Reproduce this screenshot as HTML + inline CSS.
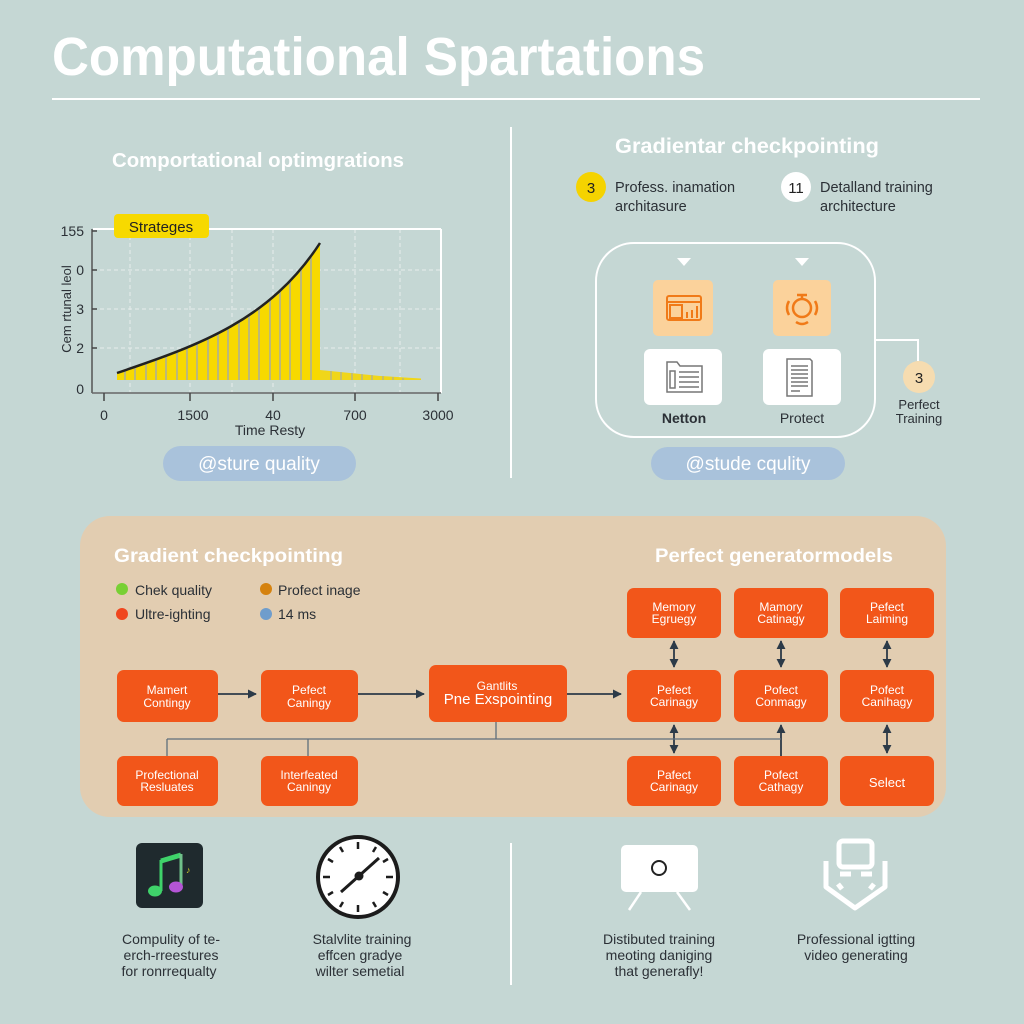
<!DOCTYPE html>
<html><head><meta charset="utf-8"><style>
html,body{margin:0;padding:0;background:#c5d7d4;}
svg{display:block;}
text{font-family:"Liberation Sans",Arial,sans-serif;}
</style></head><body>
<svg width="1024" height="1024" viewBox="0 0 1024 1024" xmlns="http://www.w3.org/2000/svg">
<defs>
<clipPath id="fillclip"><path d="M117,380 L117,373 C200,345 270,320 320,243 L320,380 Z"/></clipPath>
<marker id="ah" viewBox="0 0 10 10" refX="9" refY="5" markerWidth="5" markerHeight="5" orient="auto-start-reverse"><path d="M0,0 L10,5 L0,10 Z" fill="#2c3a48"/></marker>
</defs>
<rect width="1024" height="1024" fill="#c5d7d4"/>

<!-- Title -->
<text x="52" y="75" font-size="54" font-weight="bold" fill="#fff" textLength="653" lengthAdjust="spacingAndGlyphs">Computational Spartations</text>
<line x1="52" y1="99" x2="980" y2="99" stroke="#fff" stroke-width="2"/>
<line x1="511" y1="127" x2="511" y2="478" stroke="#fff" stroke-width="2"/>
<line x1="511" y1="843" x2="511" y2="985" stroke="#fff" stroke-width="2"/>

<!-- Left section -->
<text x="112" y="167" font-size="20" font-weight="bold" fill="#fff" textLength="292" lengthAdjust="spacingAndGlyphs">Comportational optimgrations</text>

<!-- chart grid -->
<g stroke="#e6eeec" stroke-width="1" stroke-dasharray="4,3">
<line x1="93" y1="270" x2="441" y2="270"/><line x1="93" y1="309" x2="441" y2="309"/><line x1="93" y1="348" x2="441" y2="348"/>
<line x1="130" y1="229" x2="130" y2="392"/><line x1="190" y1="229" x2="190" y2="392"/><line x1="232" y1="229" x2="232" y2="392"/><line x1="273" y1="229" x2="273" y2="392"/><line x1="355" y1="229" x2="355" y2="392"/><line x1="400" y1="229" x2="400" y2="392"/>
</g>
<line x1="93" y1="229" x2="441" y2="229" stroke="#fff" stroke-width="2"/>
<line x1="441" y1="229" x2="441" y2="393" stroke="#fff" stroke-width="2"/>
<!-- bars -->
<path d="M117,380 L117,373 C200,345 270,320 320,243 L320,380 Z" fill="#f7d900"/>
<g clip-path="url(#fillclip)" stroke="#a9aea0" stroke-width="1.5">
<line x1="125" y1="230" x2="125" y2="380"/><line x1="135" y1="230" x2="135" y2="380"/><line x1="146" y1="230" x2="146" y2="380"/><line x1="156" y1="230" x2="156" y2="380"/><line x1="166" y1="230" x2="166" y2="380"/><line x1="177" y1="230" x2="177" y2="380"/><line x1="187" y1="230" x2="187" y2="380"/><line x1="197" y1="230" x2="197" y2="380"/><line x1="208" y1="230" x2="208" y2="380"/><line x1="218" y1="230" x2="218" y2="380"/><line x1="228" y1="230" x2="228" y2="380"/><line x1="239" y1="230" x2="239" y2="380"/><line x1="249" y1="230" x2="249" y2="380"/><line x1="259" y1="230" x2="259" y2="380"/><line x1="270" y1="230" x2="270" y2="380"/><line x1="280" y1="230" x2="280" y2="380"/><line x1="290" y1="230" x2="290" y2="380"/><line x1="301" y1="230" x2="301" y2="380"/><line x1="311" y1="230" x2="311" y2="380"/>
</g>
<path d="M320,380 L320,370 L350,373 L380,376 L421,378.5 L421,380 Z" fill="#f0d61a"/>
<g stroke="#a9aea0" stroke-width="1.2">
<line x1="331" y1="371" x2="331" y2="380"/><line x1="341" y1="372" x2="341" y2="380"/><line x1="352" y1="373" x2="352" y2="380"/><line x1="362" y1="374" x2="362" y2="380"/><line x1="372" y1="375" x2="372" y2="380"/><line x1="383" y1="376" x2="383" y2="380"/><line x1="393" y1="377" x2="393" y2="380"/><line x1="403" y1="378" x2="403" y2="380"/>
</g>
<path d="M117,373 C200,345 270,320 320,243" fill="none" stroke="#222" stroke-width="2.5"/>
<!-- axes -->
<line x1="92" y1="229" x2="92" y2="393" stroke="#555" stroke-width="1.5"/>
<line x1="92" y1="393" x2="441" y2="393" stroke="#666" stroke-width="1.5"/>
<g stroke="#444" stroke-width="1.5">
<line x1="104" y1="393" x2="104" y2="401"/><line x1="190" y1="393" x2="190" y2="401"/><line x1="273" y1="393" x2="273" y2="401"/><line x1="355" y1="393" x2="355" y2="401"/><line x1="438" y1="393" x2="438" y2="401"/>
<line x1="92" y1="231" x2="97" y2="231"/><line x1="92" y1="270" x2="97" y2="270"/><line x1="92" y1="309" x2="97" y2="309"/><line x1="92" y1="348" x2="97" y2="348"/>
</g>
<g font-size="14" fill="#2b3036" text-anchor="end">
<text x="84" y="236">155</text><text x="84" y="275">0</text><text x="84" y="314">3</text><text x="84" y="353">2</text><text x="84" y="394">0</text>
</g>
<text x="0" y="0" transform="translate(71,309) rotate(-90)" font-size="13" fill="#2b3036" text-anchor="middle">Cem rtunal leol</text>
<g font-size="14" fill="#2b3036" text-anchor="middle">
<text x="104" y="420">0</text><text x="193" y="420">1500</text><text x="273" y="420">40</text><text x="355" y="420">700</text><text x="438" y="420">3000</text>
<text x="270" y="435">Time Resty</text>
</g>
<rect x="114" y="214" width="95" height="24" rx="4" fill="#f7d900"/>
<text x="161" y="232" font-size="15" fill="#222" text-anchor="middle">Strateges</text>
<rect x="163" y="446" width="193" height="35" rx="17.5" fill="#a9c2db"/>
<text x="259" y="470" font-size="19" fill="#fff" text-anchor="middle">@sture quality</text>

<!-- Right top section -->
<text x="615" y="153" font-size="21" font-weight="bold" fill="#fff" textLength="264" lengthAdjust="spacingAndGlyphs">Gradientar checkpointing</text>
<circle cx="591" cy="187" r="15" fill="#f5d300"/>
<text x="591" y="193" font-size="15" fill="#222" text-anchor="middle">3</text>
<text x="615" y="192" font-size="14.5" fill="#2b3036">Profess. inamation</text>
<text x="615" y="211" font-size="14.5" fill="#2b3036">architasure</text>
<circle cx="796" cy="187" r="15" fill="#fff"/>
<text x="796" y="193" font-size="15" fill="#222" text-anchor="middle">11</text>
<text x="820" y="192" font-size="14.5" fill="#2b3036">Detalland training</text>
<text x="820" y="211" font-size="14.5" fill="#2b3036">architecture</text>

<rect x="596" y="243" width="279" height="194" rx="38" fill="none" stroke="#fff" stroke-width="2"/>
<path d="M677,258 L691,258 L684,266 Z" fill="#fff"/>
<path d="M795,258 L809,258 L802,266 Z" fill="#fff"/>
<rect x="653" y="280" width="60" height="56" rx="5" fill="#fbd29b"/>
<g fill="none" stroke="#f07a18" stroke-width="2">
<rect x="667" y="296" width="34" height="24" rx="2"/><line x1="667" y1="302" x2="701" y2="302"/><rect x="670" y="305" width="12" height="13"/>
<line x1="687" y1="318" x2="687" y2="312"/><line x1="692" y1="318" x2="692" y2="310"/><line x1="697" y1="318" x2="697" y2="306"/>
</g>
<rect x="773" y="280" width="58" height="56" rx="5" fill="#fbd29b"/>
<g fill="none" stroke="#f07a18" stroke-width="2.5">
<circle cx="802" cy="308" r="9"/>
<path d="M789,301 Q785,308 789,315"/><path d="M815,301 Q819,308 815,315"/>
<path d="M797,295 L807,295"/><line x1="802" y1="295" x2="802" y2="299"/>
<path d="M796,322 Q802,326 808,322"/>
</g>
<rect x="644" y="349" width="78" height="56" rx="6" fill="#fff"/>
<g fill="none" stroke="#777" stroke-width="1.5">
<path d="M667,362 L677,362 L680,366 L702,366 L702,392 L667,392 Z"/><rect x="670" y="371" width="5" height="17"/>
<line x1="679" y1="372" x2="699" y2="372"/><line x1="679" y1="377" x2="699" y2="377"/><line x1="679" y1="382" x2="699" y2="382"/><line x1="679" y1="387" x2="699" y2="387"/>
</g>
<rect x="763" y="349" width="78" height="56" rx="6" fill="#fff"/>
<g fill="none" stroke="#777" stroke-width="1.5">
<path d="M787,359 L810,359 L812,361 L812,396 L787,396 Z"/>
<line x1="791" y1="366" x2="808" y2="366"/><line x1="791" y1="370" x2="808" y2="370"/><line x1="791" y1="374" x2="808" y2="374"/><line x1="791" y1="378" x2="808" y2="378"/><line x1="791" y1="382" x2="808" y2="382"/><line x1="791" y1="386" x2="808" y2="386"/><line x1="791" y1="391" x2="800" y2="391"/>
</g>
<text x="684" y="423" font-size="14" font-weight="bold" fill="#2b3036" text-anchor="middle">Netton</text>
<text x="802" y="423" font-size="14" fill="#2b3036" text-anchor="middle">Protect</text>
<path d="M875,340 L918,340 L918,361" fill="none" stroke="#fff" stroke-width="2"/>
<circle cx="919" cy="377" r="16" fill="#f6dcb0"/>
<text x="919" y="383" font-size="15" fill="#222" text-anchor="middle">3</text>
<text x="919" y="409" font-size="13" fill="#2b3036" text-anchor="middle">Perfect</text>
<text x="919" y="423" font-size="13" fill="#2b3036" text-anchor="middle">Training</text>
<rect x="651" y="447" width="194" height="33" rx="16.5" fill="#a9c2db"/>
<text x="748" y="470" font-size="19" fill="#fff" text-anchor="middle">@stude cqulity</text>

<!-- Orange panel -->
<rect x="80" y="516" width="866" height="301" rx="30" fill="#e2cdb1"/>
<text x="114" y="562" font-size="19" font-weight="bold" fill="#fff" textLength="229" lengthAdjust="spacingAndGlyphs">Gradient checkpointing</text>
<text x="655" y="562" font-size="19" font-weight="bold" fill="#fff" textLength="238" lengthAdjust="spacingAndGlyphs">Perfect generatormodels</text>
<circle cx="122" cy="589" r="6" fill="#78d034"/><text x="135" y="595" font-size="14" fill="#2b3036">Chek quality</text>
<circle cx="266" cy="589" r="6" fill="#d5820f"/><text x="278" y="595" font-size="14" fill="#2b3036">Profect inage</text>
<circle cx="122" cy="614" r="6" fill="#f0461e"/><text x="135" y="619" font-size="14" fill="#2b3036">Ultre-ighting</text>
<circle cx="266" cy="614" r="6" fill="#6f9dcc"/><text x="278" y="619" font-size="14" fill="#2b3036">14 ms</text>

<!-- connectors -->
<g stroke="#2c3a48" stroke-width="1.8" fill="none">
<line x1="218" y1="694" x2="256" y2="694" marker-end="url(#ah)"/>
<line x1="358" y1="694" x2="424" y2="694" marker-end="url(#ah)"/>
<line x1="567" y1="694" x2="621" y2="694" marker-end="url(#ah)"/>
<line x1="674" y1="641" x2="674" y2="667" marker-start="url(#ah)" marker-end="url(#ah)"/>
<line x1="781" y1="641" x2="781" y2="667" marker-start="url(#ah)" marker-end="url(#ah)"/>
<line x1="887" y1="641" x2="887" y2="667" marker-start="url(#ah)" marker-end="url(#ah)"/>
<line x1="674" y1="725" x2="674" y2="753" marker-start="url(#ah)" marker-end="url(#ah)"/>
<line x1="887" y1="725" x2="887" y2="753" marker-start="url(#ah)" marker-end="url(#ah)"/>
<line x1="781" y1="756" x2="781" y2="725" marker-end="url(#ah)"/>
</g>
<g stroke="#5f6f7c" stroke-width="1.3" fill="none">
<line x1="167" y1="739" x2="781" y2="739"/>
<line x1="496" y1="722" x2="496" y2="739"/>
<line x1="167" y1="739" x2="167" y2="756"/>
<line x1="308" y1="739" x2="308" y2="756"/>
</g>

<!-- boxes -->
<g fill="#f2561a">
<rect x="117" y="670" width="101" height="52" rx="7"/>
<rect x="261" y="670" width="97" height="52" rx="7"/>
<rect x="429" y="665" width="138" height="57" rx="7"/>
<rect x="117" y="756" width="101" height="50" rx="7"/>
<rect x="261" y="756" width="97" height="50" rx="7"/>
<rect x="627" y="588" width="94" height="50" rx="7"/>
<rect x="734" y="588" width="94" height="50" rx="7"/>
<rect x="840" y="588" width="94" height="50" rx="7"/>
<rect x="627" y="670" width="94" height="52" rx="7"/>
<rect x="734" y="670" width="94" height="52" rx="7"/>
<rect x="840" y="670" width="94" height="52" rx="7"/>
<rect x="627" y="756" width="94" height="50" rx="7"/>
<rect x="734" y="756" width="94" height="50" rx="7"/>
<rect x="840" y="756" width="94" height="50" rx="7"/>
</g>
<g font-size="12" fill="#fff" text-anchor="middle">
<text x="167" y="694">Mamert</text><text x="167" y="707">Contingy</text>
<text x="309" y="694">Pefect</text><text x="309" y="707">Caningy</text>
<text x="497" y="690">Gantlits</text><text x="498" y="704" font-size="15">Pne Exspointing</text>
<text x="167" y="779">Profectional</text><text x="167" y="791">Resluates</text>
<text x="309" y="779">Interfeated</text><text x="309" y="791">Caningy</text>
<text x="674" y="611">Memory</text><text x="674" y="623">Egruegy</text>
<text x="781" y="611">Mamory</text><text x="781" y="623">Catinagy</text>
<text x="887" y="611">Pefect</text><text x="887" y="623">Laiming</text>
<text x="674" y="694">Pefect</text><text x="674" y="706">Carinagy</text>
<text x="781" y="694">Pofect</text><text x="781" y="706">Conmagy</text>
<text x="887" y="694">Pofect</text><text x="887" y="706">Canihagy</text>
<text x="674" y="779">Pafect</text><text x="674" y="791">Carinagy</text>
<text x="781" y="779">Pofect</text><text x="781" y="791">Cathagy</text>
<text x="887" y="787" font-size="13">Select</text>
</g>

<!-- Bottom icons -->
<rect x="136" y="843" width="67" height="65" rx="6" fill="#1f2a2e"/>
<path d="M161,861 L181,855" stroke="#3fd36a" stroke-width="5"/>
<line x1="161" y1="860" x2="161" y2="891" stroke="#3fd36a" stroke-width="3"/>
<line x1="181" y1="854" x2="181" y2="887" stroke="#6fc08a" stroke-width="3"/>
<ellipse cx="155" cy="891" rx="7" ry="5.5" fill="#3fd36a"/>
<ellipse cx="176" cy="887" rx="7" ry="5.5" fill="#b455d6"/>
<text x="186" y="873" font-size="9" fill="#d8d02a">♪</text>

<circle cx="358" cy="877" r="40" fill="#fff" stroke="#1c1c1c" stroke-width="4"/>
<g stroke="#1c1c1c" stroke-width="2.5">
<line x1="358" y1="842" x2="358" y2="849"/><line x1="358" y1="905" x2="358" y2="912"/>
<line x1="323" y1="877" x2="330" y2="877"/><line x1="386" y1="877" x2="393" y2="877"/>
<line x1="340" y1="847" x2="343" y2="852"/><line x1="376" y1="847" x2="373" y2="852"/>
<line x1="340" y1="907" x2="343" y2="902"/><line x1="376" y1="907" x2="373" y2="902"/>
<line x1="328" y1="859" x2="333" y2="862"/><line x1="388" y1="859" x2="383" y2="862"/>
<line x1="328" y1="895" x2="333" y2="892"/><line x1="388" y1="895" x2="383" y2="892"/>
</g>
<line x1="341" y1="892" x2="379" y2="858" stroke="#1c1c1c" stroke-width="3"/>
<circle cx="359" cy="876" r="4.5" fill="#1c1c1c"/>

<rect x="621" y="845" width="77" height="47" rx="5" fill="#fff"/>
<circle cx="659" cy="868" r="7" fill="none" stroke="#222" stroke-width="2"/>
<line x1="641" y1="892" x2="629" y2="910" stroke="#fff" stroke-width="2.5"/>
<line x1="677" y1="892" x2="690" y2="910" stroke="#fff" stroke-width="2.5"/>

<g fill="none" stroke="#fff" stroke-width="5" stroke-linejoin="round">
<rect x="839" y="841" width="33" height="26" rx="4"/>
<path d="M826,861 L826,887 L855,908 L885,887 L885,861"/>
<line x1="840" y1="874" x2="851" y2="874"/><line x1="861" y1="874" x2="872" y2="874"/>
<line x1="838" y1="884" x2="842" y2="889"/><line x1="874" y1="884" x2="870" y2="889"/>
</g>

<g font-size="14" fill="#2b3036" text-anchor="middle">
<text x="171" y="944">Compulity of te-</text><text x="171" y="960">erch-rreestures</text><text x="169" y="976">for ronrrequalty</text>
<text x="362" y="944">Stalvlite training</text><text x="360" y="960">effcen gradye</text><text x="360" y="976">wilter semetial</text>
<text x="659" y="944">Distibuted training</text><text x="659" y="960">meoting daniging</text><text x="659" y="976">that generafly!</text>
<text x="856" y="944">Professional igtting</text><text x="856" y="960">video generating</text>
</g>
</svg>
</body></html>
